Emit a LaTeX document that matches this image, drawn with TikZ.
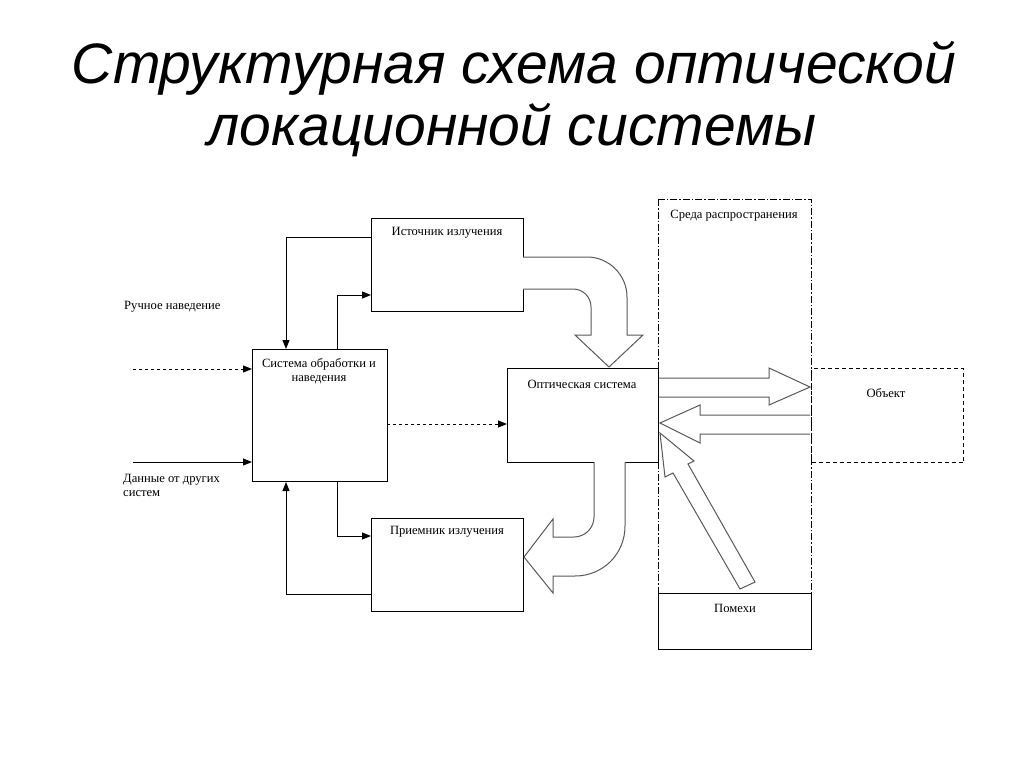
\documentclass[tikz,border=0pt]{standalone}
\usepackage{fontspec}
\setmainfont{Liberation Serif}
\newfontfamily\titlefont{Liberation Sans}
\usetikzlibrary{arrows.meta}
\begin{document}
\begin{tikzpicture}[x=1pt,y=-1pt,
  box/.style={draw=black,line width=1pt,fill=white,inner sep=0pt,anchor=north west},
  lbl/.style={font=\fontsize{12.6}{14}\selectfont,inner sep=0pt,align=center},
  conn/.style={line width=1pt,-{Triangle[length=9pt,width=7pt]}},
  barrow/.style={draw=black!65,line width=1pt,fill=white,line join=miter},
  ttl/.style={font=\titlefont\itshape\fontsize{57}{65}\selectfont,inner sep=0pt,anchor=base}]
\useasboundingbox (0,0) rectangle (1024,768);
% title
\node[ttl] (t1) at (514,83) {Структурная схема оптической};
\node[ttl] (t2) at (512,145) {локационной системы};
% propagation medium
\draw[line width=1pt,dash pattern=on 7pt off 2pt on 1.5pt off 2pt] (658,199) rectangle (811,593);
\node[lbl] (medl) at (734,216) {Среда распространения};
% object
\node[box,dash pattern=on 4pt off 3pt,fill=none,minimum width=152pt,minimum height=94pt] (obj) at (811,368) {};
\node[lbl] (objl) at (886,393) {Объект};
% interference
\node[box,minimum width=153pt,minimum height=56pt] (pom) at (658,593) {};
\node[lbl] (poml) at (735,608) {Помехи};
% main boxes
\node[box,minimum width=152pt,minimum height=93pt] (src) at (371,218) {};
\node[lbl] (srcl) at (447,233) {Источник излучения};
\node[box,minimum width=135pt,minimum height=132pt] (proc) at (252,349) {};
\node[lbl] (procl) at (319,371) {Система обработки и\\наведения};
\node[box,minimum width=151pt,minimum height=94pt] (opt) at (507,368) {};
\node[lbl] (optl) at (582,384) {Оптическая система};
\node[box,minimum width=152pt,minimum height=93pt] (recv) at (371,518) {};
\node[lbl] (recvl) at (447,532) {Приемник излучения};
% side labels
\node[lbl,anchor=west,align=left] (manual) at (124,307) {Ручное наведение};
\node[lbl,anchor=west,align=left] (data) at (123,485) {Данные от других\\систем};
\coordinate (m1) at (133,369);
\coordinate (d1) at (133,462);
% connectors
\draw[conn] ([yshift=-19pt]src.north west) -| ([xshift=34pt]proc.north west);
\draw[conn] ([xshift=85pt]proc.north west) |- ([yshift=17pt]src.south west);
\draw[conn] ([xshift=85pt]proc.south west) |- ([yshift=-18pt]recv.north west);
\draw[conn] ([yshift=18pt]recv.south west) -| ([xshift=34pt]proc.south west);
\draw[conn,dashed] (m1) -- (m1 -| proc.west);
\draw[conn] (d1) -- (d1 -| proc.west);
\coordinate (pd) at (387,424);
\draw[conn,dashed] (pd) -- (pd -| opt.west);
% block arrows
\draw[barrow] (523,257) -- (587,257) .. controls (609,257) and (627,275) .. (627,297)
  -- (627,335) -- (643,335) -- (609,367) -- (575,335) -- (591,335) -- (591,307)
  .. controls (591,297) and (583,289) .. (573,289) -- (523,289);
\draw[barrow] (625,462) -- (625,526) .. controls (625,554) and (603,576) .. (575,576)
  -- (553,576) -- (553,593) -- (524,557) -- (553,519) -- (553,537) -- (574,537)
  .. controls (585,537) and (594,528) .. (594,517) -- (594,462);
\draw[barrow] (659,378) -- (769,378) -- (769,368) -- (810,387) -- (769,405) -- (769,397) -- (659,397);
\draw[barrow] (810,415) -- (700,415) -- (700,405) -- (660,423) -- (700,443) -- (700,434) -- (810,434);
\draw[barrow] (660,433) -- (694,461) -- (688,464) -- (755,582) -- (740,589) -- (673,473) -- (665,477) -- cycle;
\end{tikzpicture}
\end{document}
